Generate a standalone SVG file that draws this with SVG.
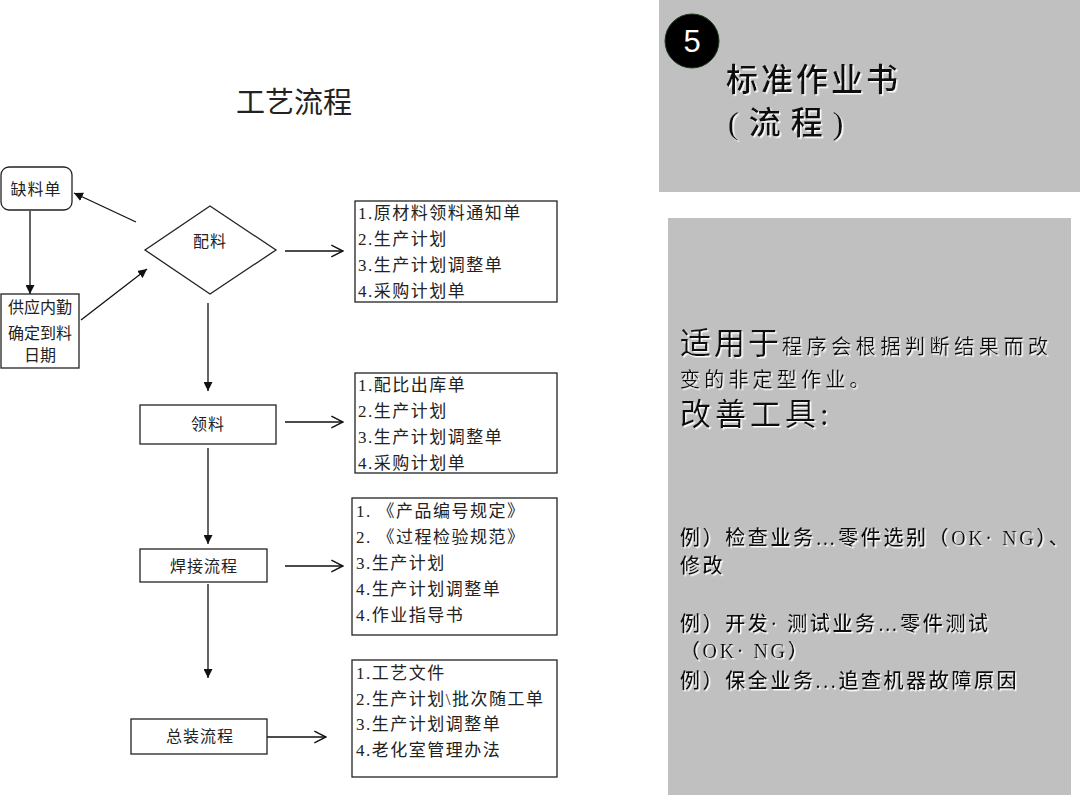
<svg xmlns="http://www.w3.org/2000/svg" width="1080" height="810" viewBox="0 0 1080 810">
<defs>
<style>
.t{font-family:"Liberation Serif","Noto Sans CJK SC",serif;fill:#222;}
.n{fill:#fff;stroke:#222;stroke-width:1.3;}
.c{stroke:#111;stroke-width:1.3;fill:none;}
.lst text{font-size:17px;letter-spacing:1.5px;}
.p{font-family:"Liberation Serif","Noto Sans CJK SC",serif;fill:#111;filter:url(#sh);}
.ex{font-size:20px;letter-spacing:2.6px;font-weight:500;}
</style>
<marker id="fa" viewBox="0 0 10 10" refX="10" refY="5" markerWidth="9" markerHeight="9" markerUnits="userSpaceOnUse" orient="auto"><path d="M0,0 L10,5 L0,10 Z" fill="#111"/></marker>
<marker id="oa" viewBox="0 0 12 12" refX="11" refY="6" markerWidth="14" markerHeight="14" markerUnits="userSpaceOnUse" orient="auto"><path d="M1,1 L11,6 L1,11" fill="none" stroke="#111" stroke-width="1.2"/></marker>
<filter id="sh" x="-5%" y="-20%" width="110%" height="140%"><feDropShadow dx="1.5" dy="1.5" stdDeviation="0.3" flood-color="#fff" flood-opacity="0.95"/></filter>
</defs>
<rect width="1080" height="810" fill="#fff"/>

<text class="t" x="294" y="113" font-size="29" text-anchor="middle">工艺流程</text>

<g id="connectors">
<line class="c" x1="136" y1="222" x2="74" y2="193" marker-end="url(#fa)"/>
<line class="c" x1="30" y1="211" x2="30" y2="294" marker-end="url(#fa)"/>
<line class="c" x1="81" y1="320" x2="147" y2="269" marker-end="url(#fa)"/>
<line class="c" x1="285" y1="251" x2="343" y2="251" marker-end="url(#oa)"/>
<line class="c" x1="208" y1="303" x2="208" y2="391" marker-end="url(#fa)"/>
<line class="c" x1="285" y1="422" x2="343" y2="422" marker-end="url(#oa)"/>
<line class="c" x1="208" y1="448" x2="208" y2="544" marker-end="url(#fa)"/>
<line class="c" x1="285" y1="566" x2="343" y2="566" marker-end="url(#oa)"/>
<line class="c" x1="208" y1="584" x2="208" y2="678" marker-end="url(#fa)"/>
<line class="c" x1="267" y1="737" x2="326" y2="737" marker-end="url(#oa)"/>
</g>

<g id="queliaodan">
<rect class="n" x="1" y="167" width="71" height="43" rx="8"/>
<text class="t" x="36" y="195" font-size="16" letter-spacing="1" text-anchor="middle">缺料单</text>
</g>
<g id="gongying">
<rect class="n" x="1" y="294" width="78" height="74"/>
<text class="t" x="40" y="313" font-size="16" text-anchor="middle">供应内勤</text>
<text class="t" x="40" y="339" font-size="16" text-anchor="middle">确定到料</text>
<text class="t" x="40" y="361" font-size="16" text-anchor="middle">日期</text>
</g>
<g id="peiliao">
<polygon class="n" points="210,206 276,250 210,294 145,250"/>
<text class="t" x="210" y="247" font-size="16" letter-spacing="1" text-anchor="middle">配料</text>
</g>
<g id="list1" class="lst">
<rect class="n" x="355" y="201" width="202" height="101"/>
<text class="t" x="358" y="219">1.原材料领料通知单</text>
<text class="t" x="358" y="245">2.生产计划</text>
<text class="t" x="358" y="271">3.生产计划调整单</text>
<text class="t" x="358" y="297">4.采购计划单</text>
</g>
<g id="lingliao">
<rect class="n" x="140" y="405" width="136" height="39"/>
<text class="t" x="208" y="430" font-size="16" letter-spacing="1" text-anchor="middle">领料</text>
</g>
<g id="list2" class="lst">
<rect class="n" x="355" y="373" width="202" height="100"/>
<text class="t" x="358" y="391">1.配比出库单</text>
<text class="t" x="358" y="417">2.生产计划</text>
<text class="t" x="358" y="443">3.生产计划调整单</text>
<text class="t" x="358" y="469">4.采购计划单</text>
</g>
<g id="hanjie">
<rect class="n" x="140" y="549" width="127" height="33"/>
<text class="t" x="204" y="572" font-size="16" letter-spacing="1" text-anchor="middle">焊接流程</text>
</g>
<g id="list3" class="lst">
<rect class="n" x="352" y="498" width="205" height="137"/>
<text class="t" x="356" y="517">1. 《产品编号规定》</text>
<text class="t" x="356" y="543">2. 《过程检验规范》</text>
<text class="t" x="356" y="569">3.生产计划</text>
<text class="t" x="356" y="595">4.生产计划调整单</text>
<text class="t" x="356" y="621">4.作业指导书</text>
</g>
<g id="zongzhuang">
<rect class="n" x="131" y="719" width="136" height="35"/>
<text class="t" x="200" y="742" font-size="16" letter-spacing="1" text-anchor="middle">总装流程</text>
</g>
<g id="list4" class="lst">
<rect class="n" x="352" y="660" width="205" height="117"/>
<text class="t" x="356" y="679">1.工艺文件</text>
<text class="t" x="356" y="705">2.生产计划\批次随工单</text>
<text class="t" x="356" y="730">3.生产计划调整单</text>
<text class="t" x="356" y="756">4.老化室管理办法</text>
</g>

<g id="panel-top">
<rect x="659" y="0" width="421" height="192" fill="#c0c0c0"/>
<circle cx="692" cy="41" r="27" fill="#000" stroke="#1a3a1a" stroke-width="1"/>
<text x="692" y="52" font-family="Liberation Sans, sans-serif" font-size="31" fill="#fff" text-anchor="middle">5</text>
<text class="p" x="726" y="91" font-size="32" letter-spacing="3" font-weight="500">标准作业书</text>
<text class="p" x="728" y="134" font-size="32" letter-spacing="1" font-weight="500">( 流 程 )</text>
</g>

<g id="panel-bottom">
<rect x="668" y="218" width="403" height="577" fill="#c0c0c0"/>
<text class="p" x="680" y="354"><tspan font-size="31" letter-spacing="3">适用于</tspan><tspan font-size="20" letter-spacing="4.6">程序会根据判断结果而改</tspan></text>
<text class="p" x="680" y="387" font-size="20" letter-spacing="4.2">变的非定型作业。</text>
<text class="p" x="680" y="425" font-size="31" letter-spacing="4">改善工具:</text>
<text class="p ex" x="680" y="545">例）检查业务…零件选别（OK· NG）、</text>
<text class="p ex" x="680" y="573">修改</text>
<text class="p ex" x="680" y="631">例）开发· 测试业务…零件测试</text>
<text class="p ex" x="680" y="658">（OK· NG）</text>
<text class="p ex" x="680" y="688">例）保全业务...追查机器故障原因</text>
</g>
</svg>
